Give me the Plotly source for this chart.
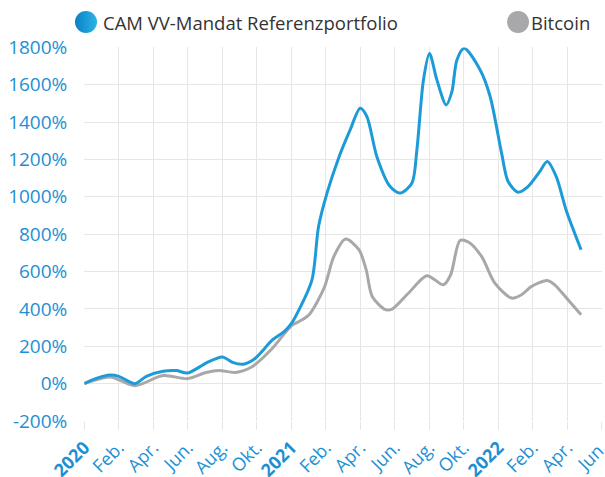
import plotly.graph_objects as go

# month index from Jan 2020 (0) to Jun 2022 (30)
cam_months = [0, 0.7, 1.5, 2, 2.93, 3.6, 4.56, 5.33, 6, 7.06, 8, 8.6, 9.19, 9.86, 10.92, 11.6, 12,
              12.45, 13.2, 13.58, 14.07, 14.74, 15.41, 15.99, 16.38, 16.96, 17.73, 18.31, 18.99,
              19.28, 19.66, 20.01, 20.44, 20.98, 21.31, 21.6, 22.02, 22.95, 23.53, 24.19, 24.57,
              25.15, 25.72, 26.4, 26.84, 27.36, 27.93, 28.8]
cam_values = [0, 28, 46, 39, 0, 39, 66, 70, 57, 110, 143, 114, 104, 132, 235, 280, 321,
              396, 556, 841, 1020, 1207, 1358, 1474, 1430, 1215, 1055, 1020, 1073,
              1251, 1626, 1768, 1626, 1492, 1563, 1733, 1795, 1679, 1536, 1234, 1082,
              1025, 1055, 1135, 1189, 1108, 930, 717]

btc_months = [0, 1.5, 2.93, 4.56, 6, 7.06, 7.8, 8.75, 9.7, 10.92, 12, 12.45, 13.03, 13.9, 14.47,
              15.15, 15.92, 16.34, 16.69, 17.46, 17.84, 18.8, 19.86, 20.82, 21.24, 21.78, 22.26,
              23.03, 23.8, 24.77, 25.35, 25.92, 26.84, 27.27, 28.04, 28.8]
btc_values = [0, 36, -11, 43, 27, 60, 71, 60, 89, 191, 310, 333, 369, 512, 681,
              774, 717, 610, 467, 396, 399, 485, 578, 529, 583, 766, 758,
              681, 538, 458, 476, 520, 552, 529, 449, 369]

tick_months = list(range(0, 31, 2))
tick_labels = ["<b>2020</b>", "Feb.", "Apr.", "Jun.", "Aug.", "Okt.",
               "<b>2021</b>", "Feb.", "Apr.", "Jun.", "Aug.", "Okt.",
               "<b>2022</b>", "Feb.", "Apr.", "Jun."]
y_ticks = list(range(-200, 1801, 200))
y_labels = [f"{v}%" for v in y_ticks]

series_names = ["CAM VV-Mandat Referenzportfolio", "Bitcoin"]

BLUE = "#1c9bd8"
GRAY = "#a8a8ab"
TICK_BLUE = "#1d90d4"
FONT = "Open Sans"

W, H = 605, 477
B = 56
PH = H - B  # plot area height (top margin 0)

fig = go.Figure()
fig.add_trace(go.Scatter(x=btc_months, y=btc_values, mode="lines", name=series_names[1],
                         line=dict(color=GRAY, width=3, shape="spline", smoothing=0.8)))
fig.add_trace(go.Scatter(x=cam_months, y=cam_values, mode="lines", name=series_names[0],
                         line=dict(color=BLUE, width=3, shape="spline", smoothing=0.8)))

# custom legend in a pixel-scaled helper subplot
leg_y = PH - 22
fig.add_trace(go.Scatter(x=[86], y=[leg_y], mode="markers", xaxis="x2", yaxis="y2",
                         hoverinfo="skip", cliponaxis=False,
                         marker=dict(size=22, color="#0a80c6", line=dict(width=0),
                                     gradient=dict(type="horizontal", color="#2cb4e6"))))
fig.add_trace(go.Scatter(x=[518], y=[leg_y], mode="markers", xaxis="x2", yaxis="y2",
                         hoverinfo="skip", cliponaxis=False,
                         marker=dict(size=22, color="#a8a8ab", line=dict(width=0))))
fig.add_annotation(x=101, y=leg_y, xref="x2", yref="y2", text=series_names[0], showarrow=False,
                   xanchor="left", yanchor="middle",
                   font=dict(family=FONT, size=18.5, color="#333333"))
fig.add_annotation(x=529, y=leg_y, xref="x2", yref="y2", text=series_names[1], showarrow=False,
                   xanchor="left", yanchor="middle",
                   font=dict(family=FONT, size=18.5, color="#333333"))

fig.update_layout(
    width=W, height=H,
    margin=dict(l=0, r=0, t=0, b=B),
    paper_bgcolor="white", plot_bgcolor="rgba(0,0,0,0)",
    font=dict(family=FONT),
    showlegend=False,
    xaxis=dict(domain=[84.3 / W, 601.8 / W], range=[0, 30], tickmode="array",
               tickvals=tick_months, ticktext=tick_labels, tickangle=-45, automargin=False,
               ticklabeloverflow="allow",
               showgrid=True, gridcolor="#e6e6e6", gridwidth=1, zeroline=False, showline=False,
               ticks="outside", ticklen=8, tickcolor="#e6e6e6",
               tickfont=dict(family=FONT, size=18, color=TICK_BLUE)),
    yaxis=dict(domain=[0, (PH - 47.4) / PH], range=[-200, 1800], tickmode="array",
               tickvals=y_ticks, ticktext=y_labels, automargin=False,
               showgrid=True, gridcolor="#e6e6e6", gridwidth=1, zeroline=False,
               showline=False, ticks="", ticklabelstandoff=16,
               tickfont=dict(family=FONT, size=19, color=TICK_BLUE)),
    xaxis2=dict(domain=[0, 1], range=[0, W], visible=False, anchor="y2", fixedrange=True),
    yaxis2=dict(domain=[0, 1], range=[0, PH], visible=False, anchor="x2", fixedrange=True),
)

fig.write_html("out.html", config={"displayModeBar": False},
               post_script="document.body.style.margin='0';")
